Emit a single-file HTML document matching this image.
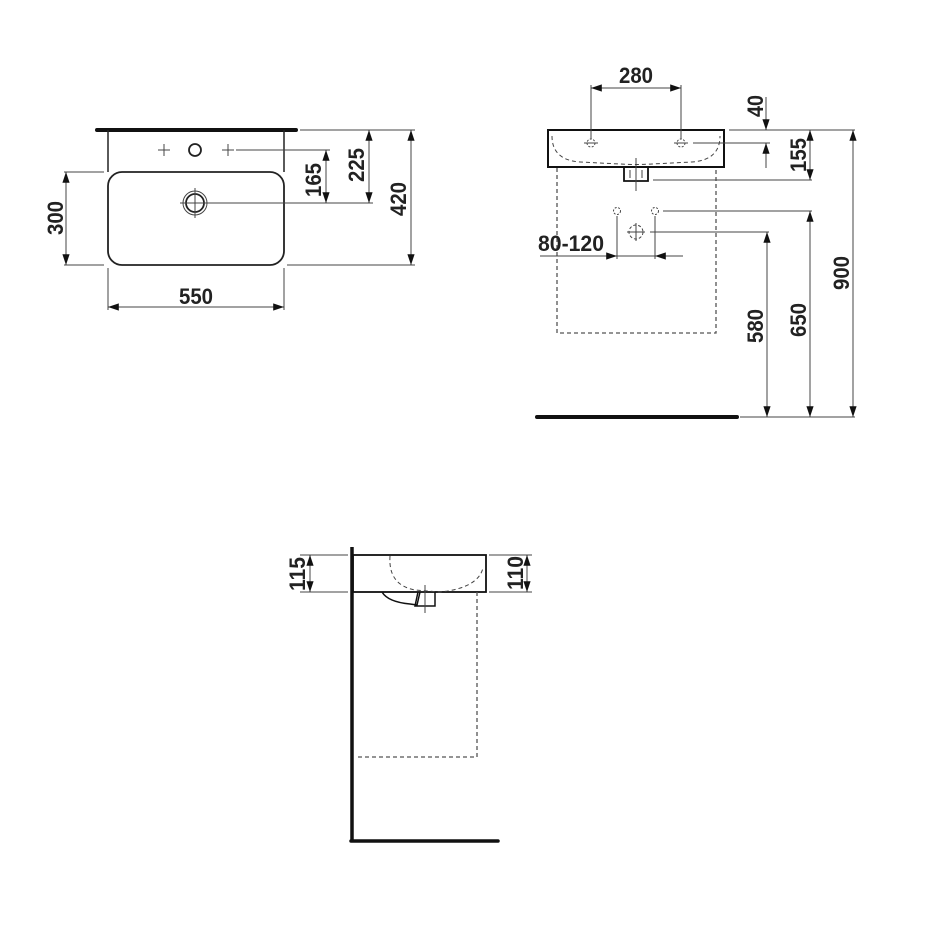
<!DOCTYPE html>
<html><head><meta charset="utf-8"><style>
html,body{margin:0;padding:0;background:#fff}
svg{display:block}
text{font-family:"Liberation Sans",sans-serif;font-weight:bold;font-size:22px;fill:#222}
</style></head><body>
<svg width="950" height="950" viewBox="0 0 950 950" xmlns="http://www.w3.org/2000/svg">
<defs>
<marker id="a" viewBox="0 0 12 10" refX="12" refY="5" markerWidth="12" markerHeight="9" orient="auto-start-reverse" markerUnits="userSpaceOnUse"><path d="M0,1 L12,5 L0,9 z" fill="#111"/></marker>
</defs>
<g stroke="#444" stroke-width="1" fill="none">
<!-- TOP VIEW -->
<line x1="97" y1="130" x2="296" y2="130" stroke="#111" stroke-width="4" stroke-linecap="round"/>
<line x1="108" y1="130" x2="108" y2="172" stroke="#222" stroke-width="1.5"/>
<line x1="284" y1="130" x2="284" y2="172" stroke="#222" stroke-width="1.5"/>
<rect x="108" y="172" width="176" height="93" rx="14" stroke="#222" stroke-width="1.8"/>
<circle cx="195" cy="150" r="6" stroke="#222" stroke-width="1.8"/>
<path d="M158 150h12M164 144v12M222 150h12M228 144v12"/>
<circle cx="195" cy="203" r="9" stroke="#222" stroke-width="1.8"/>
<circle cx="195" cy="203" r="12"/>
<path d="M180 203h30M195 188v30"/>
<line x1="236" y1="150" x2="330" y2="150"/>
<line x1="210" y1="203" x2="373" y2="203"/>
<line x1="326" y1="150" x2="326" y2="203" marker-start="url(#a)" marker-end="url(#a)"/>
<line x1="369" y1="130" x2="369" y2="203" marker-start="url(#a)" marker-end="url(#a)"/>
<line x1="300" y1="130" x2="415" y2="130"/>
<line x1="287" y1="265" x2="415" y2="265"/>
<line x1="411" y1="130" x2="411" y2="265" marker-start="url(#a)" marker-end="url(#a)"/>
<line x1="64" y1="172" x2="104" y2="172"/>
<line x1="64" y1="265" x2="104" y2="265"/>
<line x1="66" y1="172" x2="66" y2="265" marker-start="url(#a)" marker-end="url(#a)"/>
<line x1="108" y1="268" x2="108" y2="310"/>
<line x1="284" y1="268" x2="284" y2="310"/>
<line x1="108" y1="307" x2="284" y2="307" marker-start="url(#a)" marker-end="url(#a)"/>

<!-- FRONT VIEW -->
<rect x="548" y="130" width="176" height="37" stroke="#111" stroke-width="2"/>
<path d="M552 136 Q552 160 580 162 L620 164 Q636 165 652 164 L692 162 Q720 160 720 136" stroke-dasharray="4,3"/>
<path d="M624 167 v14 h24 v-14" stroke="#111" stroke-width="1.8"/>
<path d="M630 170v8M642 170v8"/>
<path d="M636 158v33"/>
<path d="M557 168 V333 H716 V168" stroke-dasharray="4,3" stroke="#555" stroke-width="1.3"/>
<circle cx="591" cy="143" r="4" stroke-dasharray="2,1.5"/><path d="M584 143h14"/>
<circle cx="681" cy="143" r="4" stroke-dasharray="2,1.5"/><path d="M674 143h14"/>
<line x1="591" y1="85" x2="591" y2="139"/>
<line x1="681" y1="85" x2="681" y2="139"/>
<line x1="591" y1="88" x2="681" y2="88" marker-start="url(#a)" marker-end="url(#a)"/>
<line x1="729" y1="130" x2="855" y2="130"/>
<line x1="693" y1="143" x2="770" y2="143"/>
<line x1="766" y1="97" x2="766" y2="130" marker-end="url(#a)"/>
<line x1="766" y1="168" x2="766" y2="143" marker-end="url(#a)"/>
<line x1="653" y1="180" x2="812" y2="180"/>
<line x1="810" y1="130" x2="810" y2="180" marker-start="url(#a)" marker-end="url(#a)"/>
<circle cx="617" cy="211" r="3.5" stroke-dasharray="2,1.5"/>
<circle cx="655" cy="211" r="3.5" stroke-dasharray="2,1.5"/>
<line x1="617" y1="216" x2="617" y2="259"/>
<line x1="655" y1="216" x2="655" y2="259"/>
<line x1="663" y1="211" x2="812" y2="211"/>
<circle cx="636" cy="232" r="7" stroke-dasharray="3,2"/>
<path d="M627 232h18M636 223v18"/>
<line x1="650" y1="232" x2="769" y2="232"/>
<line x1="540" y1="256" x2="683" y2="256"/>
<line x1="595" y1="256" x2="617" y2="256" marker-end="url(#a)"/>
<line x1="677" y1="256" x2="655" y2="256" marker-end="url(#a)"/>
<line x1="537" y1="417" x2="737" y2="417" stroke="#111" stroke-width="4" stroke-linecap="round"/>
<line x1="740" y1="417" x2="855" y2="417"/>
<line x1="767" y1="232" x2="767" y2="417" marker-start="url(#a)" marker-end="url(#a)"/>
<line x1="810" y1="211" x2="810" y2="417" marker-start="url(#a)" marker-end="url(#a)"/>
<line x1="853" y1="130" x2="853" y2="417" marker-start="url(#a)" marker-end="url(#a)"/>

<!-- SIDE VIEW -->
<line x1="352" y1="547" x2="352" y2="841" stroke="#111" stroke-width="3.5"/>
<line x1="351" y1="841" x2="498" y2="841" stroke="#111" stroke-width="3.5" stroke-linecap="round"/>
<rect x="353" y="555" width="133" height="37" stroke="#111" stroke-width="1.8"/>
<path d="M390 556 Q388 585 415 590 L440 592 Q478 588 483 568" stroke-dasharray="4,3"/>
<path d="M382 592 Q388 602 410 604 L417 605 L420 592" stroke="#111" stroke-width="1.5"/>
<path d="M418 592 l-3 14 h20 v-14" stroke="#111" stroke-width="1.5"/>
<path d="M425 585v28"/>
<path d="M477 592 V757 H355" stroke-dasharray="4,3" stroke="#555" stroke-width="1.3"/>
<line x1="300" y1="555" x2="348" y2="555"/>
<line x1="300" y1="592" x2="348" y2="592"/>
<line x1="310" y1="555" x2="310" y2="592" marker-start="url(#a)" marker-end="url(#a)"/>
<line x1="489" y1="555" x2="532" y2="555"/>
<line x1="489" y1="592" x2="532" y2="592"/>
<line x1="527" y1="555" x2="527" y2="592" marker-start="url(#a)" marker-end="url(#a)"/>
</g>
<g>
<text x="179" y="304" textLength="34" lengthAdjust="spacingAndGlyphs">550</text>
<text transform="translate(63,235) rotate(-90)" textLength="34" lengthAdjust="spacingAndGlyphs">300</text>
<text transform="translate(321,197) rotate(-90)" textLength="34" lengthAdjust="spacingAndGlyphs">165</text>
<text transform="translate(364,182) rotate(-90)" textLength="34" lengthAdjust="spacingAndGlyphs">225</text>
<text transform="translate(406,216) rotate(-90)" textLength="34" lengthAdjust="spacingAndGlyphs">420</text>
<text x="619" y="83" textLength="34" lengthAdjust="spacingAndGlyphs">280</text>
<text transform="translate(763,117) rotate(-90)" textLength="22" lengthAdjust="spacingAndGlyphs">40</text>
<text transform="translate(806,172) rotate(-90)" textLength="34" lengthAdjust="spacingAndGlyphs">155</text>
<text x="538" y="251" textLength="66" lengthAdjust="spacingAndGlyphs">80-120</text>
<text transform="translate(763,343) rotate(-90)" textLength="34" lengthAdjust="spacingAndGlyphs">580</text>
<text transform="translate(806,337) rotate(-90)" textLength="34" lengthAdjust="spacingAndGlyphs">650</text>
<text transform="translate(849,290) rotate(-90)" textLength="34" lengthAdjust="spacingAndGlyphs">900</text>
<text transform="translate(305,591) rotate(-90)" textLength="34" lengthAdjust="spacingAndGlyphs">115</text>
<text transform="translate(523,590) rotate(-90)" textLength="34" lengthAdjust="spacingAndGlyphs">110</text>
</g>
</svg>
</body></html>
